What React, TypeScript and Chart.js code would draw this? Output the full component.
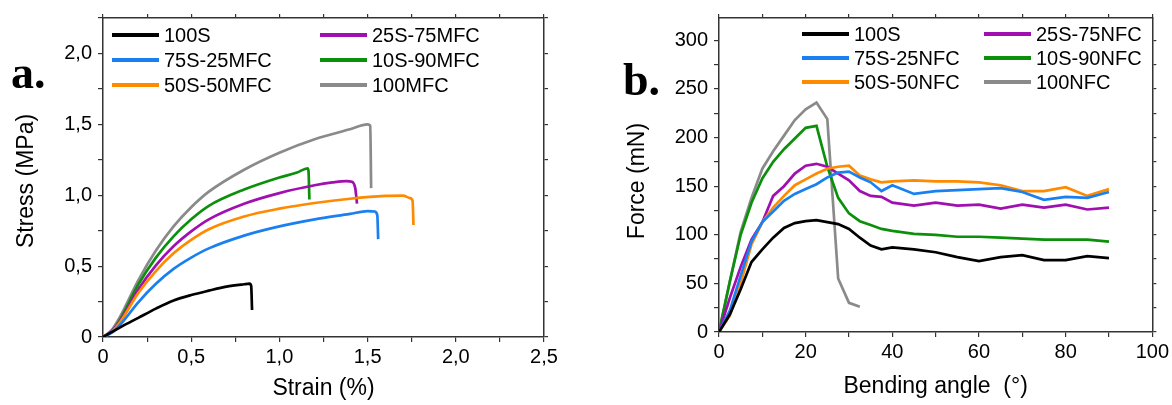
import React, { useEffect, useRef } from 'react';
import { Chart, registerables } from 'chart.js';
Chart.register(...registerables);

// ---------- Panel a: stress-strain ----------
const strain100S = [0, 0.1, 0.2, 0.3, 0.4, 0.5, 0.6, 0.7, 0.8, 0.83, 0.84, 0.845];
const stress100S = [0, 0.07, 0.135, 0.2, 0.257, 0.296, 0.327, 0.355, 0.372, 0.376, 0.36, 0.19];

const strain75S = [0, 0.05, 0.1, 0.2, 0.3, 0.4, 0.5, 0.6, 0.8, 1.0, 1.2, 1.4, 1.5, 1.54, 1.555, 1.56];
const stress75S = [0, 0.03, 0.09, 0.245, 0.375, 0.48, 0.56, 0.625, 0.715, 0.78, 0.83, 0.868, 0.888, 0.885, 0.86, 0.69];

const strain50S = [0, 0.05, 0.1, 0.2, 0.3, 0.4, 0.5, 0.6, 0.8, 1.0, 1.2, 1.4, 1.6, 1.7, 1.74, 1.755, 1.76];
const stress50S = [0, 0.035, 0.11, 0.31, 0.465, 0.59, 0.685, 0.76, 0.85, 0.905, 0.945, 0.975, 0.995, 0.997, 0.98, 0.96, 0.79];

const strain25S = [0, 0.05, 0.1, 0.2, 0.3, 0.4, 0.5, 0.6, 0.8, 1.0, 1.2, 1.3, 1.38, 1.41, 1.43, 1.435, 1.44];
const stress25S = [0, 0.04, 0.12, 0.335, 0.505, 0.64, 0.745, 0.83, 0.94, 1.015, 1.07, 1.09, 1.1, 1.095, 1.05, 1.0, 0.94];

const strain10S = [0, 0.05, 0.1, 0.2, 0.3, 0.4, 0.5, 0.6, 0.8, 1.0, 1.1, 1.16, 1.165, 1.17];
const stress10S = [0, 0.04, 0.13, 0.37, 0.56, 0.71, 0.83, 0.925, 1.04, 1.125, 1.16, 1.19, 1.17, 0.97];

const strain100MFC = [0, 0.05, 0.1, 0.2, 0.3, 0.4, 0.5, 0.6, 0.8, 1.0, 1.2, 1.4, 1.5, 1.515, 1.52];
const stress100MFC = [0, 0.05, 0.15, 0.4, 0.61, 0.78, 0.915, 1.025, 1.18, 1.3, 1.395, 1.465, 1.5, 1.49, 1.05];

const labelsA = ['100S', '75S-25MFC', '50S-50MFC', '25S-75MFC', '10S-90MFC', '100MFC'];

// ---------- Panel b: force vs bending angle ----------
const angles = [0, 2.5, 5, 7.5, 10, 12.5, 15, 17.5, 20, 22.5, 25, 27.5, 30, 32.5, 35, 37.5, 40, 45, 50, 55, 60, 65, 70, 75, 80, 85, 90];
const force100S = [0, 18, 44, 72, 85, 97, 107, 112, 114, 115, 113, 111, 106, 97, 89, 85, 87, 85, 82, 77, 73, 77, 79, 74, 74, 78, 76];
const force75S = [0, 22, 58, 93, 113, 124, 135, 142, 147, 152, 159, 164, 165, 159, 154, 145, 151, 142, 145, 146, 147, 148, 144, 136, 139, 138, 144];
const force50S = [0, 17, 50, 90, 113, 128, 140, 151, 157, 163, 168, 170, 171, 161, 157, 154, 155, 156, 155, 155, 154, 151, 145, 145, 149, 140, 147];
const force25S = [0, 35, 67, 95, 113, 140, 150, 163, 171, 173, 170, 163, 156, 145, 140, 139, 133, 130, 133, 130, 131, 127, 131, 128, 131, 126, 128];
const force10S = [0, 52, 100, 133, 158, 175, 188, 199, 210, 212, 170, 138, 122, 114, 110, 106, 104, 101, 100, 98, 98, 97, 96, 95, 95, 95, 93];
const angles100NFC = [0, 2.5, 5, 7.5, 10, 12.5, 15, 17.5, 20, 22.5, 25, 27.5, 30, 32.5];
const force100NFC = [0, 52, 103, 138, 168, 186, 202, 218, 229, 236, 219, 55, 30, 26];

const labelsB = ['100S', '75S-25NFC', '50S-50NFC', '25S-75NFC', '10S-90NFC', '100NFC'];

const colors = ['#000000', '#1a80f0', '#ff8a00', '#a010b0', '#0c900c', '#8a8a8a'];

const FONT = '"Liberation Sans", Arial, sans-serif';
const AXIS = '#333333';

const zip = (xs: number[], ys: number[]) => xs.map((x, i) => ({ x, y: ys[i] }));

type PanelSpec = {
  letter: string;
  letterX: number;
  letterY: number;
  xTitle: string;
  xTitleY: number;
  yTitle: string;
  yTitleX: number;
  yTitleY: number;
  legendRows: number[];
  legendCols: number[];
  labels: string[];
};

function makeDecorPlugin(spec: PanelSpec) {
  return {
    id: 'decor',
    afterDraw(chart: any) {
      const ctx = chart.ctx as CanvasRenderingContext2D;
      const ca = chart.chartArea;
      ctx.save();
      ctx.fillStyle = '#000';
      ctx.font = 'bold 46px "Liberation Serif", "Times New Roman", serif';
      ctx.textAlign = 'left';
      ctx.textBaseline = 'alphabetic';
      ctx.fillText(spec.letter, spec.letterX, spec.letterY);
      ctx.font = `23px ${FONT}`;
      ctx.textAlign = 'center';
      ctx.textBaseline = 'middle';
      ctx.fillText(spec.xTitle, (ca.left + ca.right) / 2, spec.xTitleY);
      ctx.save();
      ctx.translate(spec.yTitleX, spec.yTitleY);
      ctx.rotate(-Math.PI / 2);
      ctx.fillText(spec.yTitle, 0, 0);
      ctx.restore();
      ctx.font = `20px ${FONT}`;
      ctx.textAlign = 'left';
      ctx.textBaseline = 'middle';
      spec.labels.forEach((lab, i) => {
        const col = Math.floor(i / 3);
        const row = i % 3;
        const x0 = ca.left + spec.legendCols[col];
        const y = spec.legendRows[row];
        ctx.strokeStyle = colors[i];
        ctx.lineWidth = 4;
        ctx.lineCap = 'butt';
        ctx.beginPath();
        ctx.moveTo(x0, y);
        ctx.lineTo(x0 + 47, y);
        ctx.stroke();
        ctx.fillStyle = '#000';
        ctx.fillText(lab, x0 + 52, y + 1);
      });
      ctx.restore();
    },
  };
}

function axisCommon(extra: any) {
  return {
    type: 'linear',
    border: { display: true, color: AXIS, width: 1.5 },
    grid: { drawOnChartArea: false, drawTicks: true, tickLength: 5, color: AXIS, lineWidth: 1.2 },
    ...extra,
  };
}

function buildOptions(o: {
  xMin: number; xMax: number; xStep: number; xMajor: number;
  yMin: number; yMax: number; yStep: number; yMajor: number;
  fmt: (v: number) => string;
  leftW: number; rightW: number; topH: number; bottomH: number;
}) {
  const isMajor = (v: number, m: number) => Math.abs(v / m - Math.round(v / m)) < 1e-6;
  const keepStep = (step: number) => (s: any) => {
    s.ticks = s.ticks.filter((t: any) => isMajor(t.value, step));
  };
  const tickFont = { family: FONT, size: 20 };
  return {
    responsive: false,
    animation: false,
    devicePixelRatio: 1,
    layout: { padding: 0 },
    plugins: { legend: { display: false }, tooltip: { enabled: false }, title: { display: false } },
    elements: { point: { radius: 0 } },
    scales: {
      x: axisCommon({
        position: 'bottom',
        min: o.xMin, max: o.xMax,
        afterBuildTicks: keepStep(o.xStep),
        afterFit: (s: any) => { s.height = o.bottomH; },
        ticks: {
          stepSize: o.xStep, color: '#000', font: tickFont, padding: 3, maxRotation: 0, autoSkip: false,
          callback: (v: number) => (isMajor(v, o.xMajor) ? o.fmt(v) : ''),
        },
      }),
      x2: axisCommon({
        position: 'top',
        min: o.xMin, max: o.xMax,
        afterBuildTicks: keepStep(o.xStep),
        afterFit: (s: any) => { s.height = o.topH; },
        grid: { drawOnChartArea: false, drawTicks: true, tickLength: 4, color: AXIS, lineWidth: 1.2 },
        ticks: { stepSize: o.xStep, display: false, autoSkip: false },
      }),
      y: axisCommon({
        position: 'left',
        min: o.yMin, max: o.yMax,
        afterBuildTicks: keepStep(o.yStep),
        afterFit: (s: any) => { s.width = o.leftW; },
        ticks: {
          stepSize: o.yStep, color: '#000', font: tickFont, padding: 6, autoSkip: false,
          callback: (v: number) => (isMajor(v, o.yMajor) ? o.fmt(v) : ''),
        },
      }),
      y2: axisCommon({
        position: 'right',
        min: o.yMin, max: o.yMax,
        afterBuildTicks: keepStep(o.yStep),
        afterFit: (s: any) => { s.width = o.rightW; },
        grid: { drawOnChartArea: false, drawTicks: true, tickLength: 4, color: AXIS, lineWidth: 1.2 },
        ticks: { stepSize: o.yStep, display: false, autoSkip: false },
      }),
    },
  };
}

const commaFmt = (v: number) => (Math.abs(v) < 1e-9 ? '0' : v.toFixed(1).replace('.', ','));
const intFmt = (v: number) => String(Math.round(v));

function PanelA() {
  const ref = useRef<HTMLCanvasElement>(null);
  useEffect(() => {
    const xs = [strain100S, strain75S, strain50S, strain25S, strain10S, strain100MFC];
    const ys = [stress100S, stress75S, stress50S, stress25S, stress10S, stress100MFC];
    const chart = new Chart(ref.current as HTMLCanvasElement, {
      type: 'line',
      data: {
        datasets: labelsA.map((lab, i) => ({
          label: lab,
          data: zip(xs[i], ys[i]),
          borderColor: colors[i],
          borderWidth: 2.7,
          pointRadius: 0,
          fill: false,
          cubicInterpolationMode: 'monotone',
          xAxisID: 'x',
          yAxisID: 'y',
        })),
      },
      options: buildOptions({
        xMin: 0, xMax: 2.5, xStep: 0.25, xMajor: 0.5,
        yMin: 0, yMax: 2.25, yStep: 0.25, yMajor: 0.5,
        fmt: commaFmt,
        leftW: 103, rightW: 42, topH: 13, bottomH: 68,
      }) as any,
      plugins: [makeDecorPlugin({
        letter: 'a.', letterX: 11, letterY: 88,
        xTitle: 'Strain (%)', xTitleY: 389,
        yTitle: 'Stress (MPa)', yTitleX: 27, yTitleY: 181,
        legendRows: [35, 60, 85],
        legendCols: [9, 217],
        labels: labelsA,
      })],
    } as any);
    return () => chart.destroy();
  }, []);
  return <canvas ref={ref} width={586} height={405} style={{ position: 'absolute', left: 0, top: 0 }} />;
}

function PanelB() {
  const ref = useRef<HTMLCanvasElement>(null);
  useEffect(() => {
    const xs = [angles, angles, angles, angles, angles, angles100NFC];
    const ys = [force100S, force75S, force50S, force25S, force10S, force100NFC];
    const chart = new Chart(ref.current as HTMLCanvasElement, {
      type: 'line',
      data: {
        datasets: labelsB.map((lab, i) => ({
          label: lab,
          data: zip(xs[i], ys[i]),
          borderColor: colors[i],
          borderWidth: 2.7,
          pointRadius: 0,
          fill: false,
          tension: 0,
          xAxisID: 'x',
          yAxisID: 'y',
        })),
      },
      options: buildOptions({
        xMin: 0, xMax: 100, xStep: 10, xMajor: 20,
        yMin: 0, yMax: 323, yStep: 25, yMajor: 50,
        fmt: intFmt,
        leftW: 133, rightW: 19, topH: 13, bottomH: 73,
      }) as any,
      plugins: [makeDecorPlugin({
        letter: 'b.', letterX: 37, letterY: 95,
        xTitle: 'Bending angle  (°)', xTitleY: 387,
        yTitle: 'Force (mN)', yTitleX: 52, yTitleY: 181,
        legendRows: [34, 58, 82],
        legendCols: [83, 265],
        labels: labelsB,
      })],
    } as any);
    return () => chart.destroy();
  }, []);
  return <canvas ref={ref} width={586} height={405} style={{ position: 'absolute', left: 586, top: 0 }} />;
}

export default function App() {
  return (
    <div style={{ position: 'fixed', left: 0, top: 0, width: 1172, height: 405, background: '#fff', overflow: 'hidden' }}>
      <PanelA />
      <PanelB />
    </div>
  );
}
